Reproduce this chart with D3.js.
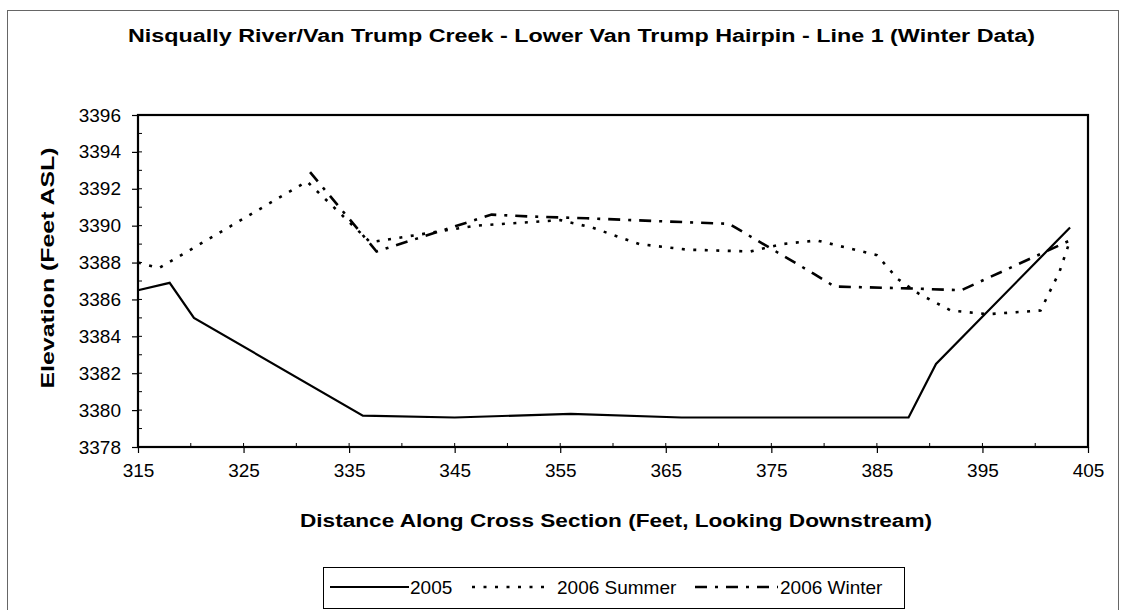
<!DOCTYPE html>
<html><head><meta charset="utf-8">
<script src="https://cdn.jsdelivr.net/npm/d3@7"></script>
<style>body{margin:0;background:#fff;} svg{display:block;font-family:"Liberation Sans",Arial,sans-serif;}</style>
</head><body>
<svg id="c" width="1126" height="610"></svg>
<script>
const titleText = "Nisqually River/Van Trump Creek - Lower Van Trump Hairpin - Line 1 (Winter Data)";
const xTitle = "Distance Along Cross Section (Feet, Looking Downstream)";
const yTitle = "Elevation (Feet ASL)";
const xTicks = [315,325,335,345,355,365,375,385,395,405];
const yTicks = [3378,3380,3382,3384,3386,3388,3390,3392,3394,3396];
const seriesNames = ["2005","2006 Summer","2006 Winter"];

const s2005 = [[315,3386.5],[318,3386.9],[320.3,3385.0],[336.3,3379.7],[345,3379.6],[356,3379.8],[366.5,3379.6],[388,3379.6],[390.6,3382.5],[403.3,3389.9]];
const sSummer = [[315,3388.0],[317,3387.7],[331,3392.4],[337,3389.1],[347,3390.0],[355,3390.3],[358,3389.9],[362.5,3389.0],[367,3388.7],[373,3388.6],[376,3389.0],[379.3,3389.2],[385,3388.4],[387,3387.1],[389,3386.3],[392,3385.4],[395.5,3385.2],[400.5,3385.4],[402.3,3387.5],[403.3,3389.2]];
const sWinter = [[331.3,3392.9],[337.6,3388.6],[348.5,3390.6],[352,3390.5],[357.5,3390.4],[364,3390.25],[371,3390.1],[379,3387.4],[381,3386.7],[388,3386.6],[393,3386.5],[403.3,3389.2]];

const svg = d3.select("#c");
const L=138, R=1088, T=115, B=447;
const x = d3.scaleLinear().domain([315,405]).range([L,R]);
const y = d3.scaleLinear().domain([3378,3396]).range([B,T]);

// outer border
svg.append("rect").attr("x",7.5).attr("y",10.5).attr("width",1111).attr("height",640)
  .attr("fill","none").attr("stroke","#666").attr("stroke-width",1);

// title
svg.append("text").attr("x",(128+1035)/2).attr("y",42).attr("text-anchor","middle")
  .attr("font-size",18).attr("font-weight","bold").attr("textLength",907).attr("lengthAdjust","spacingAndGlyphs").text(titleText);

// minor ticks (inside)
const g = svg.append("g");
g.selectAll("line.ym").data(d3.range(3379,3396,1)).enter().append("line")
  .attr("x1",L).attr("x2",L+4).attr("y1",d=>y(d)).attr("y2",d=>y(d)).attr("stroke","#000").attr("stroke-width",1);
g.selectAll("line.xm").data(d3.range(320,405,5)).enter().append("line")
  .attr("x1",d=>x(d)).attr("x2",d=>x(d)).attr("y1",B).attr("y2",B-4).attr("stroke","#000").attr("stroke-width",1);

// axes
const xAxis = d3.axisBottom(x).tickValues(xTicks).tickSize(6).tickPadding(10).tickFormat(d3.format("d"));
const yAxis = d3.axisLeft(y).tickValues(yTicks).tickSize(6).tickPadding(11).tickFormat(d3.format("d"));
const gx = svg.append("g").attr("transform",`translate(0,${B})`).call(xAxis);
const gy = svg.append("g").attr("transform",`translate(${L},0)`).call(yAxis);
[gx,gy].forEach(a=>{a.select(".domain").remove();a.selectAll("line").attr("stroke","#000").attr("stroke-width",1.2);
  a.selectAll("text").attr("font-size",19).attr("fill","#000").attr("font-family","Liberation Sans, Arial, sans-serif");});
gx.selectAll("text").attr("dy","0.75em");

// plot border
svg.append("rect").attr("x",L).attr("y",T).attr("width",R-L).attr("height",B-T)
  .attr("fill","none").attr("stroke","#000").attr("stroke-width",2.2);

// axis titles
svg.append("text").attr("x",(L+R)/2+3).attr("y",527).attr("text-anchor","middle")
  .attr("font-size",18).attr("font-weight","bold").attr("textLength",632).attr("lengthAdjust","spacingAndGlyphs").text(xTitle);
svg.append("text").attr("transform","translate(54,268) rotate(-90)").attr("text-anchor","middle")
  .attr("font-size",18).attr("font-weight","bold").attr("textLength",241).attr("lengthAdjust","spacingAndGlyphs").text(yTitle);

// lines
const line = d3.line().x(d=>x(d[0])).y(d=>y(d[1]));
const styles = [
  {data:s2005, dash:null, w:2.2},
  {data:sSummer, dash:"3,8.5", w:2.6},
  {data:sWinter, dash:"12,8,3,8", w:2.6}
];
styles.forEach(s=>{
  svg.append("path").attr("d",line(s.data)).attr("fill","none").attr("stroke","#000")
    .attr("stroke-width",s.w).attr("stroke-dasharray",s.dash);
});

// legend
svg.append("rect").attr("x",323.5).attr("y",567.5).attr("width",581).attr("height",41)
  .attr("fill","#fff").attr("stroke","#000").attr("stroke-width",1);
const leg = [
  {x1:330,x2:409,tx:410,dash:null,w:2.2},
  {x1:472,x2:548,tx:557,dash:"3,8.5",w:2.6},
  {x1:695,x2:778,tx:780,dash:"12,8,3,8",w:2.6}
];
leg.forEach((l,i)=>{
  svg.append("line").attr("x1",l.x1).attr("x2",l.x2).attr("y1",587).attr("y2",587)
    .attr("stroke","#000").attr("stroke-width",l.w).attr("stroke-dasharray",l.dash);
  svg.append("text").attr("x",l.tx).attr("y",594).attr("font-size",19).text(seriesNames[i]);
});
</script>
</body></html>
